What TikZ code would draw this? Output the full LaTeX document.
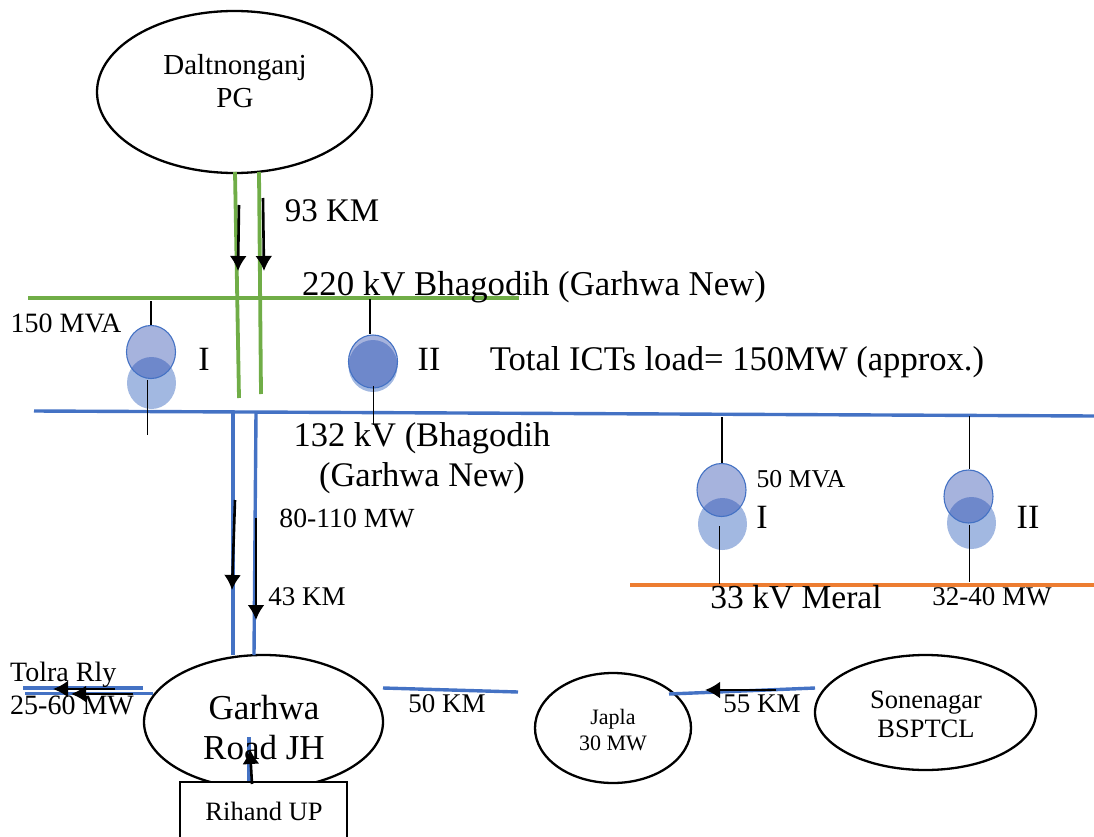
\documentclass[tikz,border=0pt]{standalone}
\usepackage{fontspec}
\setmainfont{Liberation Serif}
\usetikzlibrary{shapes.geometric,arrows.meta}
\definecolor{busgreen}{HTML}{70AD47}
\definecolor{busblue}{HTML}{4472C4}
\definecolor{busorange}{HTML}{ED7D31}
\definecolor{coiltop}{HTML}{2041AA}
\tikzset{
    station/.style={draw,ellipse,line width=2.3pt,inner sep=0pt,align=center},
    txt/.style={inner sep=0pt,align=center},
    greenln/.style={busgreen,line width=3.8pt},
    blueln/.style={busblue,line width=3.4pt},
    flow/.style={line width=2.6pt,-{Latex[length=15pt,width=17pt]}},
    stem/.style={line width=1.2pt},
    coilup/.style={ellipse,draw=busblue,line width=1.1pt,fill=coiltop,fill opacity=0.4,draw opacity=1,minimum width=49pt,minimum height=53pt,inner sep=0pt},
    coillo/.style={ellipse,fill=busblue!50,minimum width=49pt,minimum height=52pt,inner sep=0pt},
}
\begin{document}
\begin{tikzpicture}[x=1pt,y=-1pt]
    \clip (0,0) rectangle (1094,837);
    %% stations
    \node[station,minimum width=275pt,minimum height=162pt] (dalt) at (234.5,92) {};
    \node[station,minimum width=239pt,minimum height=134pt] (garhwa) at (263.5,722) {};
    \node[station,minimum width=156pt,minimum height=110pt] (japla) at (613,728) {};
    \node[station,minimum width=221pt,minimum height=115pt] (sone) at (925.5,712.5) {};
    \node[draw,line width=2.3pt,fill=white,minimum width=167pt,minimum height=62pt] (rihand) at (263.5,813) {};
    %% 220 kV bus and double line
    \coordinate (g1) at (28,298);
    \coordinate (g2) at (519,298);
    \coordinate (d1) at (235,172);
    \coordinate (d2) at (239,398);
    \coordinate (d3) at (259,172);
    \coordinate (d4) at (261,394);
    \draw[greenln] (g1) -- (g2);
    \draw[greenln] (d1) -- (d2);
    \draw[greenln] (d3) -- (d4);
    \coordinate (fa1) at (239,205);
    \coordinate (fa2) at (238,271);
    \coordinate (fb1) at (263,198);
    \coordinate (fb2) at (264,271);
    \draw[flow] (fa1) -- (fa2);
    \draw[flow] (fb1) -- (fb2);
    %% 132 kV bus and double line
    \coordinate (b1) at (34,411);
    \coordinate (b2) at (1094,416);
    \coordinate (e1) at (233,413);
    \coordinate (e2) at (233,655);
    \coordinate (e3) at (256,413);
    \coordinate (e4) at (254,655);
    \draw[blueln] (b1) -- (b2);
    \draw[blueln] (e1) -- (e2);
    \draw[blueln] (e3) -- (e4);
    \coordinate (fc1) at (235,500);
    \coordinate (fc2) at (232,590);
    \coordinate (fd1) at (256,518);
    \coordinate (fd2) at (256,620);
    \draw[flow] (fc1) -- (fc2);
    \draw[flow] (fd1) -- (fd2);
    %% 33 kV bus
    \coordinate (o1) at (630,585);
    \coordinate (o2) at (1094,585);
    \draw[busorange,line width=3.4pt] (o1) -- (o2);
    %% transformers
    \node[coillo] (t1lo) at (151.5,383) {};
    \node[coilup] (t1up) at (151,352) {};
    \node[coillo] (t2lo) at (373,366) {};
    \node[coilup] (t2up) at (373,361.5) {};
    \node[coillo] (t3lo) at (722.5,524) {};
    \node[coilup] (t3up) at (721.5,490) {};
    \node[coillo] (t4lo) at (971.5,523) {};
    \node[coilup] (t4up) at (968.5,496.5) {};
    %% stems
    \coordinate (s1) at (151,301);
    \coordinate (s2) at (147.7,380);
    \coordinate (s3) at (147.7,435);
    \draw[stem] (s1) -- (t1up.north);
    \draw[stem] (s2) -- (s3);
    \coordinate (s4) at (370,299);
    \coordinate (s5) at (373.3,386);
    \coordinate (s6) at (373.3,425);
    \draw[stem] (s4) -- (s4 |- t2up.north);
    \draw[stem] (s5) -- (s6);
    \coordinate (s7) at (722,417);
    \coordinate (s8) at (719.3,526);
    \coordinate (s9) at (719.3,584);
    \draw[stem] (s7) -- (s7 |- t3up.north);
    \draw[stem] (s8) -- (s9);
    \coordinate (s10) at (969.7,416);
    \coordinate (s11) at (969.7,525);
    \coordinate (s12) at (969.7,582);
    \draw[stem] (s10) -- (s10 |- t4up.north);
    \draw[stem] (s11) -- (s12);
    %% feeders at the bottom
    \coordinate (w1) at (23,688);
    \coordinate (w2) at (143,688);
    \coordinate (w3) at (25,693.5);
    \coordinate (w4) at (153,693.5);
    \draw[blueln] (w1) -- (w2);
    \draw[blueln] (w3) -- (w4);
    \coordinate (fe1) at (115,689);
    \coordinate (fe2) at (53,689);
    \coordinate (ff1) at (133,694);
    \coordinate (ff2) at (71,694);
    \draw[flow] (fe1) -- (fe2);
    \draw[flow] (ff1) -- (ff2);
    \coordinate (r1) at (249,737);
    \draw[blueln] (r1) -- (rihand.north -| r1);
    \coordinate (fg1) at (252,784);
    \coordinate (fg2) at (250,749);
    \draw[flow] (fg1) -- (fg2);
    \coordinate (j1) at (383,688);
    \coordinate (j2) at (518,692);
    \coordinate (j3) at (669,694);
    \coordinate (j4) at (815,688);
    \draw[blueln] (j1) -- (j2);
    \draw[blueln] (j3) -- (j4);
    \coordinate (fh1) at (776,690);
    \coordinate (fh2) at (705,690);
    \draw[flow] (fh1) -- (fh2);
    %% labels
    \node[txt,font=\fontsize{29}{33}\selectfont] (daltlab) at (235,81) {Daltnonganj\\PG};
    \node[txt,font=\fontsize{35}{40}\selectfont] (garlab) at (264,728) {Garhwa\\Road JH};
    \node[txt,font=\fontsize{22}{26}\selectfont] (japlab) at (613,730) {Japla\\30 MW};
    \node[txt,font=\fontsize{26.5}{29}\selectfont] (sonlab) at (926,714) {Sonenagar\\BSPTCL};
    \node[txt,font=\fontsize{26.5}{30}\selectfont] (rihlab) at (264,811) {Rihand UP};
    \node[txt,font=\fontsize{33}{38}\selectfont] (km93) at (332,211) {93 KM};
    \node[txt,font=\fontsize{34.8}{38}\selectfont] (bus220) at (534,287) {220 kV Bhagodih (Garhwa New)};
    \node[txt,font=\fontsize{28}{32}\selectfont] (mva150) at (66,323) {150 MVA};
    \node[txt,font=\fontsize{34}{38}\selectfont] (ti) at (204,359) {I};
    \node[txt,font=\fontsize{34}{38}\selectfont] (tii) at (429,359) {II};
    \node[txt,font=\fontsize{34.6}{38}\selectfont] (ictload) at (737,362) {Total ICTs load= 150MW (approx.)};
    \node[txt,font=\fontsize{34.5}{40}\selectfont] (bus132) at (422,458) {132 kV (Bhagodih\\(Garhwa New)\hspace{12pt}};
    \node[txt,font=\fontsize{27.7}{32}\selectfont] (mw80) at (347,518) {80-110 MW};
    \node[txt,font=\fontsize{27}{32}\selectfont] (km43) at (307,597) {43 KM};
    \node[txt,font=\fontsize{25.7}{30}\selectfont] (mva50) at (801,479) {50 MVA};
    \node[txt,font=\fontsize{34}{38}\selectfont] (tiii) at (762,517) {I};
    \node[txt,font=\fontsize{34}{38}\selectfont] (tiv) at (1028,517) {II};
    \node[txt,font=\fontsize{33.5}{38}\selectfont] (meral) at (796,597) {33 kV Meral};
    \node[txt,font=\fontsize{27}{32}\selectfont] (mw32) at (992,597) {32-40 MW};
    \node[txt,align=left,anchor=west,font=\fontsize{28}{33}\selectfont] (tolra) at (10,688) {Tolra Rly\\25-60 MW};
    \node[txt,font=\fontsize{27}{32}\selectfont] (km50) at (447,704) {50 KM};
    \node[txt,font=\fontsize{27}{32}\selectfont] (km55) at (762,704) {55 KM};
\end{tikzpicture}
\end{document}
